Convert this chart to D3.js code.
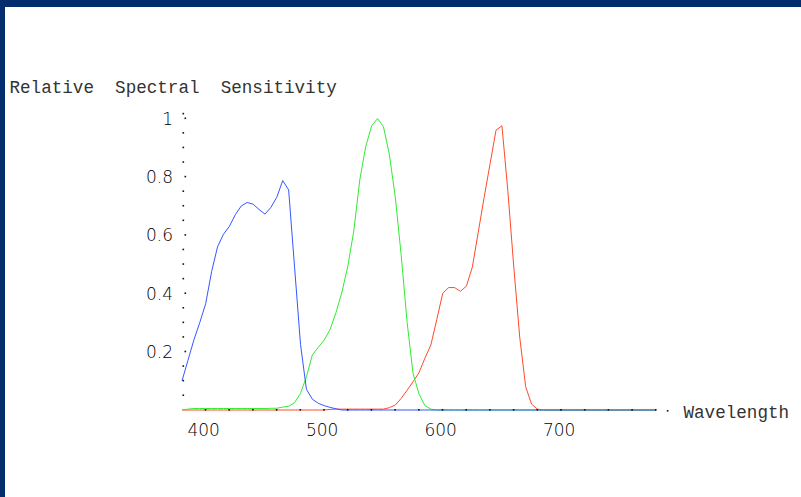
<!DOCTYPE html>
<html>
<head>
<meta charset="utf-8">
<script src="https://cdn.jsdelivr.net/npm/d3@7/dist/d3.min.js"></script>
<style>
	html, body { margin: 0; padding: 0; background: #ffffff; }
	svg { display: block; }
</style>
</head>
<body>
<div id="chart"></div>
<script>
// wavelengths (nm), sampled every 5 nm
var wavelengths = [
	380, 385, 390, 395, 400, 405, 410, 415, 420, 425,
	430, 435, 440, 445, 450, 455, 460, 465, 470, 475,
	480, 485, 490, 495, 500, 505, 510, 515, 520, 525,
	530, 535, 540, 545, 550, 555, 560, 565, 570, 575,
	580, 585, 590, 595, 600, 605, 610, 615, 620, 625,
	630, 635, 640, 645, 650, 655, 660, 665, 670, 675,
	680, 685, 690, 695, 700, 705, 710, 715, 720, 725,
	730, 735, 740, 745, 750, 755, 760, 765, 770, 775,
	780
];

// relative sensitivity of the three cone types
var blueCone = [
	0.10, 0.17, 0.24, 0.30, 0.365, 0.475, 0.56, 0.603, 0.63, 0.67,
	0.70, 0.712, 0.706, 0.688, 0.672, 0.695, 0.73, 0.787, 0.755, 0.49,
	0.225, 0.071, 0.037, 0.023, 0.015, 0.009, 0.004, 0, 0, 0,
	0, 0, 0, 0, 0, 0, 0, 0, 0, 0,
	0, 0, 0, 0, 0, 0, 0, 0, 0, 0,
	0, 0, 0, 0, 0, 0, 0, 0, 0, 0,
	0, 0, 0, 0, 0, 0, 0, 0, 0, 0,
	0, 0, 0, 0, 0, 0, 0, 0, 0, 0,
	0
];
var greenCone = [
	0, 0.003, 0.005, 0.005, 0.005, 0.005, 0.005, 0.005, 0.005, 0.005,
	0.005, 0.005, 0.005, 0.005, 0.005, 0.006, 0.006, 0.01, 0.013, 0.025,
	0.057, 0.114, 0.189, 0.215, 0.24, 0.276, 0.335, 0.405, 0.495, 0.615,
	0.789, 0.903, 0.974, 1.0, 0.972, 0.876, 0.73, 0.53, 0.30, 0.125,
	0.055, 0.015, 0.003, 0, 0, 0, 0, 0, 0, 0,
	0, 0, 0, 0, 0, 0, 0, 0, 0, 0,
	0, 0, 0, 0, 0, 0, 0, 0, 0, 0,
	0, 0, 0, 0, 0, 0, 0, 0, 0, 0,
	0
];
var redCone = [
	0, 0, 0, 0, 0, 0, 0, 0, 0, 0,
	0, 0, 0, 0, 0, 0, 0, 0, 0, 0,
	0, 0, 0, 0, 0, 0.002, 0.003, 0.003, 0.003, 0.003,
	0.003, 0.003, 0.003, 0.003, 0.003, 0.008, 0.017, 0.04, 0.068, 0.097,
	0.128, 0.178, 0.223, 0.31, 0.40, 0.42, 0.42, 0.407, 0.425, 0.49,
	0.61, 0.73, 0.845, 0.96, 0.975, 0.75, 0.49, 0.25, 0.08, 0.02,
	0.003, 0, 0, 0, 0, 0, 0, 0, 0, 0,
	0, 0, 0, 0, 0, 0, 0, 0, 0, 0,
	0
];

var xTickLabels = [400, 500, 600, 700];
var yTickLabels = [0.2, 0.4, 0.6, 0.8, 1];

var series = [
	{name: "red", values: redCone, color: "#ff4a2a"},
	{name: "green", values: greenCone, color: "#33ea33"},
	{name: "blue", values: blueCone, color: "#3557ff"}
];

var width = 801, height = 497;

var svg = d3.select("#chart").append("svg")
	.attr("width", width)
	.attr("height", height);

// frame: dark band along top and left edge
svg.append("rect")
	.attr("width", width).attr("height", height)
	.attr("fill", "#032d6c");
svg.append("rect")
	.attr("x", 5).attr("y", 7)
	.attr("width", width - 5).attr("height", height - 7)
	.attr("fill", "#ffffff");

var x = d3.scaleLinear()
	.domain([380, 780])
	.range([182, 656]);
var y = d3.scaleLinear()
	.domain([0, 1])
	.range([410, 118.5]);

var monoFont = "'Liberation Mono', 'DejaVu Sans Mono', monospace";

// title
svg.append("text")
	.attr("x", 9.5)
	.attr("y", 93)
	.style("white-space", "pre")
	.style("font-family", monoFont)
	.style("font-size", "17.6px")
	.attr("fill", "#333")
	.text("Relative  Spectral  Sensitivity");

// curves
var line = d3.line()
	.x(function (d, i) { return x(wavelengths[i]); })
	.y(function (d) { return y(d); });

svg.append("g")
	.selectAll("path")
	.data(series)
	.enter().append("path")
	.attr("d", function (d) { return line(d.values); })
	.attr("fill", "none")
	.attr("stroke", function (d) { return d.color; })
	.attr("stroke-width", 1);

// dotted y axis: minor dots every 0.05, major ones nudged right
var dots = svg.append("g").attr("fill", "#111");
var yDots = d3.range(1, 21).map(function (k) { return k * 0.05; });
dots.selectAll(".ydot")
	.data(yDots)
	.enter().append("rect")
	.attr("class", "ydot")
	.attr("x", function (d) {
		return yTickLabels.some(function (t) { return Math.abs(t - d) < 1e-6; }) ? 184.5 : 182.5;
	})
	.attr("y", function (d) { return y(d) - 1; })
	.attr("width", 1.6).attr("height", 1.6);
dots.append("rect")
	.attr("x", 182.5).attr("y", y(1.016) - 1)
	.attr("width", 1.6).attr("height", 1.6);

// dotted x axis: dots every 20 nm, plus one past the end
var xDots = d3.range(400, 781, 20);
dots.selectAll(".xdot")
	.data(xDots)
	.enter().append("rect")
	.attr("class", "xdot")
	.attr("x", function (d) { return x(d) - 1; })
	.attr("y", y(0) - 1)
	.attr("width", 1.6).attr("height", 1.6);
dots.append("rect")
	.attr("x", x(790) - 1).attr("y", y(0))
	.attr("width", 1.6).attr("height", 1.6);

// tick labels
var labelFont = "'DejaVu Sans', Verdana, sans-serif";
svg.append("g")
	.selectAll("text")
	.data(yTickLabels)
	.enter().append("text")
	.attr("x", 173)
	.attr("y", function (d) { return y(d); })
	.attr("dy", "0.36em")
	.attr("text-anchor", "end")
	.style("font-family", labelFont)
	.style("font-size", "17px")
	.style("font-weight", 200)
	.attr("fill", "#000")
	.text(function (d) { return d3.format("")(d); });

svg.append("g")
	.selectAll("text")
	.data(xTickLabels)
	.enter().append("text")
	.attr("x", function (d) { return x(d) - 2; })
	.attr("y", 436)
	.attr("text-anchor", "middle")
	.style("font-family", labelFont)
	.style("font-size", "17px")
	.style("font-weight", 200)
	.attr("fill", "#000")
	.text(function (d) { return d; });

// x axis title
svg.append("text")
	.attr("x", 683.5)
	.attr("y", 418)
	.style("font-family", monoFont)
	.style("font-size", "17.6px")
	.attr("fill", "#333")
	.text("Wavelength");
</script>
</body>
</html>
